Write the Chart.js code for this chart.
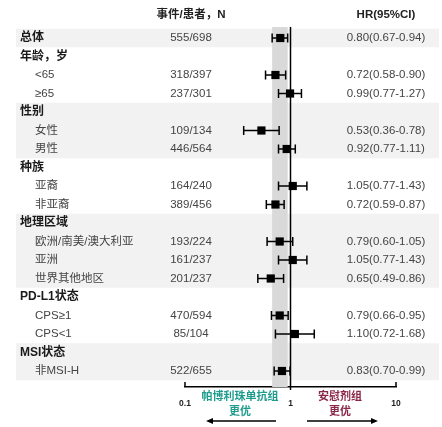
<!DOCTYPE html>
<html>
<head>
<meta charset="utf-8">
<script src="https://cdn.jsdelivr.net/npm/chart.js@4/dist/chart.umd.min.js"></script>
<style>
  html, body { margin: 0; padding: 0; background: #fff; }
  canvas { display: block; }
</style>
</head>
<body>
<canvas id="forest" width="442" height="427"></canvas>
<script>
// Subgroup rows, top to bottom
const rowLabels = ['总体', '年龄，岁', '<65', '≥65', '性别', '女性', '男性', '种族', '亚裔', '非亚裔',
  '地理区域', '欧洲/南美/澳大利亚', '亚洲', '世界其他地区', 'PD-L1状态', 'CPS≥1', 'CPS<1', 'MSI状态', '非MSI-H'];
const headerRows = [0, 1, 4, 7, 10, 14, 17];
const eventCounts = ['555/698', '', '318/397', '237/301', '', '109/134', '446/564', '', '164/240', '389/456',
  '', '193/224', '161/237', '201/237', '', '470/594', '85/104', '', '522/655'];
const hrValues = [0.80, null, 0.72, 0.99, null, 0.53, 0.92, null, 1.05, 0.72,
  null, 0.79, 1.05, 0.65, null, 0.79, 1.10, null, 0.83];
const ciLow = [0.67, null, 0.58, 0.77, null, 0.36, 0.77, null, 0.77, 0.59,
  null, 0.60, 0.77, 0.49, null, 0.66, 0.72, null, 0.70];
const ciHigh = [0.94, null, 0.90, 1.27, null, 0.78, 1.11, null, 1.43, 0.87,
  null, 1.05, 1.43, 0.86, null, 0.95, 1.68, null, 0.99];
// Row groups drawn on a light grey background (first row, last row)
const shadedGroups = [[0, 0], [4, 6], [10, 13], [17, 18]];
const axisTicks = [0.1, 1, 10];
const axisTickLabels = ['0.1', '1', '10'];
const columnTitles = ['事件/患者，N', 'HR(95%CI)'];
const favourLeft = ['帕博利珠单抗组', '更优'];
const favourRight = ['安慰剂组', '更优'];

const FONT = "'Liberation Sans', 'Noto Sans CJK SC', Arial, sans-serif";
const fmt = v => v.toFixed(2);

const points = [];
hrValues.forEach((v, i) => { if (v !== null) points.push({ x: v, y: i }); });

const forestLayers = {
  id: 'forestLayers',
  beforeDatasetsDraw(chart) {
    const { ctx, scales: { x, y }, chartArea } = chart;
    ctx.save();
    // grouped row backgrounds
    ctx.fillStyle = '#f2f2f2';
    shadedGroups.forEach(([a, b]) => {
      const top = y.getPixelForValue(a - 0.5);
      const bottom = y.getPixelForValue(b + 0.5);
      ctx.fillRect(16, top, 423, bottom - top);
    });
    // overall confidence interval band
    const bx0 = x.getPixelForValue(ciLow[0]);
    const bx1 = x.getPixelForValue(ciHigh[0]);
    ctx.fillStyle = '#d9d9d9';
    ctx.fillRect(bx0, chartArea.top, bx1 - bx0, chartArea.bottom - chartArea.top);
    // line of no effect
    const x1 = x.getPixelForValue(1);
    ctx.strokeStyle = '#000';
    ctx.lineWidth = 1.5;
    ctx.beginPath();
    ctx.moveTo(x1, chartArea.top);
    ctx.lineTo(x1, chartArea.bottom + 3);
    ctx.stroke();
    // confidence interval whiskers
    ctx.lineWidth = 1.5;
    hrValues.forEach((v, i) => {
      if (v === null) return;
      const py = y.getPixelForValue(i);
      const l = x.getPixelForValue(ciLow[i]);
      const h = x.getPixelForValue(ciHigh[i]);
      ctx.beginPath();
      ctx.moveTo(l, py); ctx.lineTo(h, py);
      ctx.moveTo(l, py - 4.5); ctx.lineTo(l, py + 4.5);
      ctx.moveTo(h, py - 4.5); ctx.lineTo(h, py + 4.5);
      ctx.stroke();
    });
    ctx.restore();
  },
  afterDraw(chart) {
    const { ctx, scales: { x, y }, chartArea } = chart;
    ctx.save();
    ctx.textBaseline = 'middle';
    // column titles
    ctx.fillStyle = '#222';
    ctx.font = 'bold 11.5px ' + FONT;
    ctx.textAlign = 'center';
    ctx.fillText(columnTitles[0], 191, 15);
    ctx.fillText(columnTitles[1], 386, 15);
    // row texts
    rowLabels.forEach((label, i) => {
      const py = y.getPixelForValue(i);
      const isHead = headerRows.includes(i);
      ctx.textAlign = 'left';
      if (isHead) {
        ctx.font = 'bold 12px ' + FONT;
        ctx.fillStyle = '#1a1a1a';
        ctx.fillText(label, 20, py);
      } else {
        ctx.font = '11.5px ' + FONT;
        ctx.fillStyle = '#444';
        ctx.fillText(label, 35, py);
      }
      ctx.font = '11.5px ' + FONT;
      ctx.fillStyle = '#444';
      ctx.textAlign = 'center';
      if (eventCounts[i]) ctx.fillText(eventCounts[i], 191, py);
      if (hrValues[i] !== null) {
        ctx.fillText(fmt(hrValues[i]) + '(' + fmt(ciLow[i]) + '-' + fmt(ciHigh[i]) + ')', 386, py);
      }
    });
    // upward end ticks on the axis
    ctx.strokeStyle = '#000';
    ctx.lineWidth = 1.5;
    const xa = x.getPixelForValue(axisTicks[0]);
    const xb = x.getPixelForValue(axisTicks[axisTicks.length - 1]);
    ctx.beginPath();
    ctx.moveTo(xa, chartArea.bottom - 5); ctx.lineTo(xa, chartArea.bottom);
    ctx.moveTo(xb, chartArea.bottom - 5); ctx.lineTo(xb, chartArea.bottom);
    ctx.stroke();
    // favour labels
    ctx.textAlign = 'center';
    ctx.font = 'bold 11px ' + FONT;
    ctx.fillStyle = '#1e9c8c';
    ctx.fillText(favourLeft[0], 240, 397);
    ctx.fillText(favourLeft[1], 240, 412);
    ctx.fillStyle = '#8a2748';
    ctx.fillText(favourRight[0], 340, 397);
    ctx.fillText(favourRight[1], 340, 412);
    // direction arrows
    ctx.strokeStyle = '#000';
    ctx.fillStyle = '#000';
    ctx.lineWidth = 1.3;
    const ay = 421;
    ctx.beginPath();
    ctx.moveTo(276, ay); ctx.lineTo(211, ay);
    ctx.moveTo(307, ay); ctx.lineTo(373, ay);
    ctx.stroke();
    ctx.beginPath();
    ctx.moveTo(206, ay); ctx.lineTo(213, ay - 3); ctx.lineTo(213, ay + 3); ctx.closePath();
    ctx.moveTo(378, ay); ctx.lineTo(371, ay - 3); ctx.lineTo(371, ay + 3); ctx.closePath();
    ctx.fill();
    ctx.restore();
  }
};

new Chart(document.getElementById('forest'), {
  type: 'scatter',
  data: {
    datasets: [{
      data: points,
      pointStyle: 'rect',
      pointRadius: 5.8,
      pointHoverRadius: 5.8,
      backgroundColor: '#000',
      borderColor: '#000',
      borderWidth: 0
    }]
  },
  options: {
    responsive: false,
    devicePixelRatio: 1,
    animation: false,
    layout: { padding: { left: 185, right: 46, top: 27, bottom: 0 } },
    plugins: { legend: { display: false }, tooltip: { enabled: false } },
    scales: {
      x: {
        type: 'logarithmic',
        min: 0.1,
        max: 10,
        afterBuildTicks: scale => { scale.ticks = axisTicks.map(v => ({ value: v })); },
        afterFit: scale => { scale.height = 40; },
        grid: { display: false, drawTicks: false },
        border: { display: true, color: '#000', width: 1.5 },
        ticks: {
          autoSkip: false,
          maxRotation: 0,
          padding: 12,
          color: '#222',
          font: { family: FONT, size: 8.5, weight: 'bold' },
          callback: (v) => axisTickLabels[axisTicks.indexOf(v)] ?? ''
        }
      },
      y: {
        type: 'linear',
        reverse: true,
        min: -0.595,
        max: 18.865,
        display: false
      }
    }
  },
  plugins: [forestLayers]
});
</script>
</body>
</html>
